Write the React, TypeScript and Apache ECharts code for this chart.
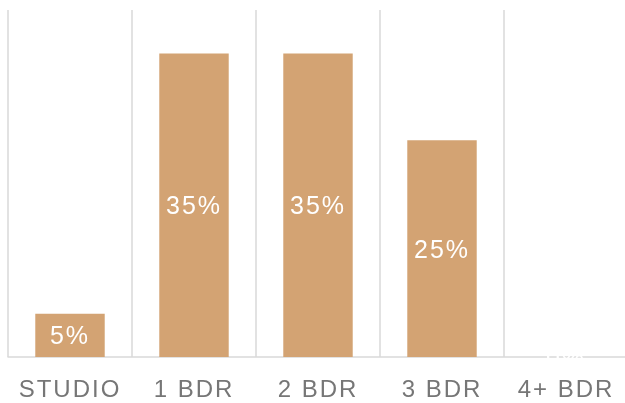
import React, { useEffect, useRef } from "react";
import * as echarts from "echarts";

const categories = ["STUDIO", "1 BDR", "2 BDR", "3 BDR", "4+ BDR"];
const values = [5, 35, 35, 25, 0];

export default function App() {
  const ref = useRef<HTMLDivElement>(null);
  useEffect(() => {
    if (!ref.current) return;
    const chart = echarts.init(ref.current, null, { renderer: "svg" });
    chart.setOption({
      animation: false,
      grid: { left: 8, width: 620, top: 10, height: 347, containLabel: false },
      xAxis: {
        type: "category",
        data: categories,
        axisLine: { show: true, lineStyle: { color: "#d9d9d9", width: 1.5 } },
        axisTick: { show: false },
        splitLine: { show: true, interval: 0, lineStyle: { color: "#d9d9d9", width: 1.5 } },
        axisLabel: {
          color: "#767676",
          fontSize: 24,
          fontFamily: "Liberation Sans",
          margin: 19,
          interval: 0,
        },
      },
      yAxis: {
        type: "value",
        min: 0,
        max: 40,
        show: false,
        splitLine: { show: false },
      },
      series: [
        {
          type: "bar",
          data: values,
          barWidth: "56%",
          itemStyle: { color: "#D3A373" },
          label: {
            show: true,
            position: "inside",
            color: "#ffffff",
            fontSize: 25,
            fontFamily: "Liberation Sans",
            formatter: (p: any) => p.value + "%",
          },
        },
      ],
    });
    return () => chart.dispose();
  }, []);
  return (
    <div style={{ position: "fixed", left: 0, top: 0, width: 625, height: 403, overflow: "hidden" }}>
      <div
        ref={ref}
        style={{ width: 640, height: 403, letterSpacing: "2px" }}
      />
    </div>
  );
}
